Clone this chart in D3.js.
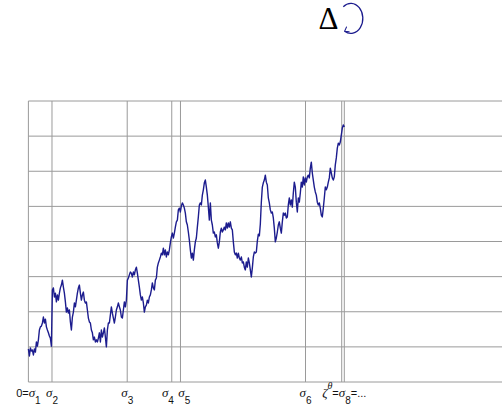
<!DOCTYPE html>
<html>
<head>
<meta charset="utf-8">
<script src="https://cdn.jsdelivr.net/npm/d3@7"></script>
<style>
  html, body { margin: 0; padding: 0; background: #fff; }
  svg { display: block; }
</style>
</head>
<body>
<svg id="chart" width="502" height="409"></svg>
<script>
// Sampled path of the process, one value per time step of 1/316 (t = 0 .. 1)
const walkStep = 1 / 316;
const walk = [
  0.94,0.74,0.97,0.88,0.91,0.77,0.94,0.85,1.14,1.02,1.20,1.48,1.57,1.59,1.68,1.85,1.68,1.79,1.57,1.48,1.40,1.31,1.25,1.02,
  2.62,2.68,2.42,2.53,2.28,2.48,2.33,2.53,2.68,2.76,2.90,2.70,2.53,2.28,1.99,2.11,1.96,2.05,1.71,1.48,
  1.85,1.99,2.25,2.14,2.33,2.53,2.68,2.76,2.53,2.33,2.48,2.56,2.33,2.25,2.28,2.05,1.82,1.71,1.68,1.48,
  1.40,1.20,1.28,1.14,1.20,1.14,1.25,1.40,1.14,1.48,1.28,1.40,1.54,1.28,1.00,1.48,1.68,1.68,1.91,2.14,
  1.96,1.82,1.68,1.85,2.05,2.14,2.25,2.14,2.05,1.85,1.82,2.05,2.28,2.14,2.33,2.90,2.96,3.05,3.13,3.10,
  2.99,3.13,3.05,3.19,3.27,3.10,2.90,2.70,2.48,2.33,2.42,2.25,1.99,2.14,2.19,2.33,2.25,2.42,2.48,2.62,
  2.82,2.68,2.62,2.90,2.96,3.27,3.39,3.47,3.56,3.67,3.62,3.81,3.62,3.76,3.56,3.70,3.62,3.76,3.96,4.13,
  4.24,4.10,4.24,4.41,4.56,4.61,4.90,4.95,4.84,5.01,5.10,5.04,4.95,4.81,4.56,4.47,4.27,4.04,3.76,3.53,
  3.67,3.47,3.76,3.99,4.10,4.41,4.70,5.04,5.10,5.04,5.32,5.47,5.67,5.75,5.55,5.32,4.98,4.61,5.10,4.61,
  4.47,4.24,4.27,4.13,4.19,3.96,3.81,3.99,4.27,4.38,4.27,4.33,4.41,4.33,4.53,4.38,4.53,4.41,4.56,4.38,
  4.33,3.99,3.70,3.62,3.67,3.53,3.67,3.53,3.47,3.56,3.39,3.42,3.27,3.19,3.42,3.27,3.53,3.39,3.19,2.99,
  3.25,3.56,3.70,3.67,3.70,4.01,4.21,4.16,4.50,5.12,5.55,5.67,5.75,5.89,5.69,5.61,5.24,5.10,4.90,4.81,
  4.84,4.67,4.38,3.99,4.10,4.27,4.47,4.56,4.38,4.24,4.56,4.81,4.75,4.81,4.67,4.70,5.04,5.24,5.04,5.18,
  4.98,5.38,5.69,5.55,5.12,4.84,5.24,5.12,5.38,5.69,5.55,5.84,5.61,5.81,5.69,5.84,5.89,5.81,6.09,6.26,
  5.95,5.75,5.55,5.41,5.32,5.12,5.04,5.10,4.95,4.75,4.70,4.95,5.24,5.55,5.47,5.55,5.69,5.81,6.09,5.95,
  5.81,5.75,5.84,6.18,6.38,6.66,6.80,6.75,6.83,7.03,7.23,7.32,7.26
];

// Horizontal reference levels
const levels = [0, 1, 2, 3, 4, 5, 6, 7, 8];

// Stopping times marked by vertical lines, and their labels
// ("_" = subscript, "^" = superscript, null = no label of its own)
const stopTimes  = [0, 0.0747, 0.3128, 0.4538, 0.4814, 0.8772, 0.9918, 1.0];
const stopLabels = ["0=σ_1", "σ_2", "σ_3", "σ_4", "σ_5", "σ_6", null, "ζ^θ=σ_8=..."];

const timeDomain = [0, 1.5];
const levelDomain = [0, 8];

const svg = d3.select("#chart");
const W = 502, H = 409;

const x = d3.scaleLinear().domain(timeDomain).range([28.4, 502.25]);
const y = d3.scaleLinear().domain(levelDomain).range([382, 101]);

const gridColor = "#9a9a9a";
const pathColor = "#1c1c8e";

// Horizontal grid lines
svg.append("g")
  .selectAll("line")
  .data(levels)
  .join("line")
  .attr("x1", x(timeDomain[0]))
  .attr("x2", x(timeDomain[1]))
  .attr("y1", d => y(d))
  .attr("y2", d => y(d))
  .attr("stroke", gridColor)
  .attr("stroke-width", 1);

// Vertical lines at the stopping times
svg.append("g")
  .selectAll("line")
  .data(stopTimes)
  .join("line")
  .attr("x1", d => x(d))
  .attr("x2", d => x(d))
  .attr("y1", y(levelDomain[0]))
  .attr("y2", y(levelDomain[1]))
  .attr("stroke", gridColor)
  .attr("stroke-width", 1);

// The sample path
const line = d3.line()
  .x((d, i) => x(i * walkStep))
  .y(d => y(d));

svg.append("path")
  .datum(walk)
  .attr("d", line)
  .attr("fill", "none")
  .attr("stroke", pathColor)
  .attr("stroke-width", 1.4)
  .attr("stroke-linejoin", "round");

// Labels under the stopping-time lines
const sansFont = "'Liberation Sans', Arial, Helvetica, sans-serif";
const serifFont = "'Liberation Serif', 'Times New Roman', serif";
const greek = /[α-ωΑ-Ω]/;

function writeLabel(textSel, spec) {
  let offset = 0; // current baseline shift
  const shiftTo = target => { const d = target - offset; offset = target; return d; };
  for (let i = 0; i < spec.length; i++) {
    let ch = spec[i];
    let mode = "base";
    if (ch === "_" || ch === "^") { mode = ch === "_" ? "sub" : "sup"; ch = spec[++i]; }
    const ts = textSel.append("tspan").text(ch);
    const isGreek = greek.test(ch);
    if (mode === "sub") {
      ts.attr("dy", shiftTo(7)).attr("font-size", 10).attr("font-family", sansFont);
    } else if (mode === "sup") {
      ts.attr("dy", shiftTo(-8)).attr("font-size", 10)
        .attr("font-family", serifFont).attr("font-style", "italic");
    } else {
      ts.attr("dy", shiftTo(0));
      if (isGreek) ts.attr("font-size", 13).attr("font-family", serifFont).attr("font-style", "italic");
      else ts.attr("font-size", 11).attr("font-family", sansFont);
    }
  }
}

const labelData = stopTimes.map((t, i) => ({ t, label: stopLabels[i] })).filter(d => d.label);
const labelG = svg.append("g");
const labelNodes = labelData.map(d => {
  const t = labelG.append("text")
    .attr("x", x(d.t))
    .attr("y", 397)
    .attr("text-anchor", "middle")
    .attr("fill", "#111");
  writeLabel(t, d.label);
  return t.node();
});

// Push neighbouring labels apart when they would overlap
const gap = 4;
const boxes = labelNodes.map(n => ({ n, b: n.getBBox(), dx: 0 }));
for (let i = 1; i < boxes.length; i++) {
  const a = boxes[i - 1], c = boxes[i];
  const overlap = (a.b.x + a.b.width + a.dx + gap) - (c.b.x + c.dx);
  if (overlap > 0) { a.dx -= overlap / 2; c.dx += overlap / 2; }
}
boxes.forEach(o => o.n.setAttribute("transform", `translate(${o.dx},0)`));

// Title symbol with a circular arrow
svg.append("text")
  .attr("x", 328.5)
  .attr("y", 29)
  .attr("text-anchor", "middle")
  .attr("font-family", serifFont)
  .attr("font-size", 31)
  .attr("fill", "#000")
  .text("Δ");

const defs = svg.append("defs");
defs.append("marker")
  .attr("id", "loopHead")
  .attr("markerUnits", "userSpaceOnUse")
  .attr("markerWidth", 10)
  .attr("markerHeight", 10)
  .attr("viewBox", "-6 -5 12 10")
  .attr("refX", 0)
  .attr("refY", 0)
  .attr("orient", 150)
  .append("path")
  .attr("d", "M-4.5,-3.2 L0,0 L-4.5,3.2")
  .attr("fill", "none")
  .attr("stroke", pathColor)
  .attr("stroke-width", 1.2)
  .attr("stroke-linecap", "round")
  .attr("stroke-linejoin", "round");

svg.append("path")
  .attr("d", "M343.3,6.7 A12,15 0 1 1 344.6,31.2")
  .attr("fill", "none")
  .attr("stroke", pathColor)
  .attr("stroke-width", 1.3)
  .attr("marker-end", "url(#loopHead)");
</script>
</body>
</html>
